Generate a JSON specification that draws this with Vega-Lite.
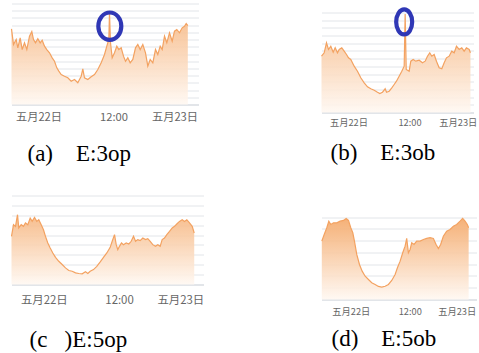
{
  "$schema": "https://vega.github.io/schema/vega-lite/v6.json",
  "background": "white",
  "padding": {"left": 8.5, "top": 0.5, "right": 0, "bottom": 0},
  "config": {"view": {"stroke": null}},
  "datasets": {
    "t": [{"h": 0}, {"h": 12}, {"h": 24}],
    "ea": [{"h": 11.41, "v": 108.5}],
    "eb": [{"h": 10.96, "v": 117.7}],
    "a": [
      {"h":-4.32,"v":104.9},{"h":-4.0,"v":83.2},{"h":-3.57,"v":90.1},{"h":-3.31,"v":78.6},{"h":-2.93,"v":92.4},{"h":-2.61,"v":76.2},{"h":-2.24,"v":85.5},{"h":-1.87,"v":76.2},{"h":-1.44,"v":94.7},{"h":-1.07,"v":101.2},{"h":-0.8,"v":90.1},{"h":-0.48,"v":85.5},{"h":-0.11,"v":91.1},{"h":0.27,"v":85.5},{"h":0.59,"v":89.1},{"h":0.96,"v":80.8},{"h":1.33,"v":76.2},{"h":1.76,"v":71.7},{"h":2.19,"v":64.7},{"h":2.56,"v":60.0},{"h":2.93,"v":50.8},{"h":3.25,"v":46.2},{"h":3.63,"v":41.6},{"h":4.16,"v":39.2},{"h":4.69,"v":37.0},{"h":5.23,"v":32.3},{"h":5.76,"v":34.7},{"h":6.29,"v":30.1},{"h":6.83,"v":39.2},{"h":7.09,"v":49.5},{"h":7.36,"v":37.0},{"h":7.89,"v":34.7},{"h":8.43,"v":38.4},{"h":8.96,"v":41.6},{"h":9.49,"v":48.5},{"h":10.03,"v":57.8},{"h":10.56,"v":69.3},{"h":10.93,"v":80.8},{"h":11.25,"v":90.1},{"h":11.36,"v":127.1},{"h":11.52,"v":85.5},{"h":11.79,"v":64.7},{"h":12.16,"v":71.7},{"h":12.53,"v":80.8},{"h":12.85,"v":76.2},{"h":13.23,"v":78.6},{"h":13.6,"v":67.0},{"h":13.92,"v":60.0},{"h":14.29,"v":64.7},{"h":14.67,"v":57.8},{"h":15.09,"v":62.4},{"h":15.52,"v":78.6},{"h":15.89,"v":83.2},{"h":16.27,"v":76.2},{"h":16.69,"v":83.2},{"h":17.12,"v":71.7},{"h":17.49,"v":53.1},{"h":17.87,"v":62.4},{"h":18.29,"v":57.8},{"h":18.72,"v":76.2},{"h":19.09,"v":69.3},{"h":19.47,"v":80.8},{"h":19.79,"v":76.2},{"h":20.16,"v":94.7},{"h":20.53,"v":85.5},{"h":20.96,"v":99.4},{"h":21.39,"v":87.8},{"h":21.76,"v":101.6},{"h":22.13,"v":104.0},{"h":22.56,"v":99.4},{"h":22.99,"v":106.3},{"h":23.36,"v":108.5},{"h":23.63,"v":112.3},{"h":23.89,"v":109.5}
    ],
    "b": [
      {"h":-5.31,"v":73.2},{"h":-4.78,"v":77.6},{"h":-4.33,"v":90.6},{"h":-3.93,"v":81.9},{"h":-3.48,"v":86.2},{"h":-3.01,"v":78.4},{"h":-2.62,"v":84.1},{"h":-2.16,"v":77.6},{"h":-1.83,"v":81.9},{"h":-1.32,"v":84.1},{"h":-0.85,"v":79.7},{"h":-0.39,"v":75.4},{"h":0,"v":71.1},{"h":0.45,"v":68.9},{"h":1.12,"v":60.2},{"h":1.77,"v":53.7},{"h":2.42,"v":45.1},{"h":3.09,"v":38.6},{"h":3.74,"v":33.4},{"h":4.39,"v":30.8},{"h":5.06,"v":29.0},{"h":5.71,"v":26.4},{"h":6.16,"v":24.7},{"h":6.69,"v":26.4},{"h":7.22,"v":30.8},{"h":7.48,"v":26.4},{"h":8.01,"v":27.7},{"h":8.52,"v":32.1},{"h":8.99,"v":36.4},{"h":9.44,"v":40.7},{"h":9.97,"v":47.2},{"h":10.49,"v":53.7},{"h":10.96,"v":60.2},{"h":11.15,"v":128.0},{"h":11.36,"v":56.0},{"h":11.94,"v":53.7},{"h":12.26,"v":66.7},{"h":12.73,"v":68.9},{"h":13.24,"v":66.7},{"h":13.91,"v":68.0},{"h":14.56,"v":64.6},{"h":15.09,"v":66.7},{"h":15.54,"v":73.2},{"h":15.99,"v":77.6},{"h":16.39,"v":73.2},{"h":16.86,"v":75.4},{"h":17.31,"v":66.7},{"h":17.84,"v":58.1},{"h":18.36,"v":56.8},{"h":18.83,"v":64.6},{"h":19.28,"v":71.1},{"h":19.81,"v":73.2},{"h":20.32,"v":79.7},{"h":20.8,"v":77.6},{"h":21.25,"v":86.2},{"h":21.78,"v":81.9},{"h":22.29,"v":84.1},{"h":22.76,"v":79.7},{"h":23.21,"v":84.1},{"h":23.75,"v":81.9},{"h":24.0,"v":77.6}
    ],
    "c": [
      {"h":-5.15,"v":48.7},{"h":-4.83,"v":60.5},{"h":-4.51,"v":58.8},{"h":-4.19,"v":70.6},{"h":-3.99,"v":57.2},{"h":-3.6,"v":60.5},{"h":-3.24,"v":58.8},{"h":-2.92,"v":62.2},{"h":-2.55,"v":60.5},{"h":-2.17,"v":67.2},{"h":-1.85,"v":63.8},{"h":-1.48,"v":67.8},{"h":-1.12,"v":63.8},{"h":-0.8,"v":65.5},{"h":-0.41,"v":60.5},{"h":-0.05,"v":55.4},{"h":0.27,"v":48.7},{"h":0.64,"v":42.0},{"h":1.02,"v":37.0},{"h":1.44,"v":31.9},{"h":1.87,"v":27.5},{"h":2.39,"v":23.5},{"h":2.93,"v":20.2},{"h":3.46,"v":16.8},{"h":3.99,"v":14.1},{"h":4.53,"v":13.4},{"h":5.06,"v":11.8},{"h":5.58,"v":11.1},{"h":6.12,"v":10.8},{"h":6.65,"v":12.8},{"h":7.02,"v":11.1},{"h":7.4,"v":13.4},{"h":7.93,"v":15.1},{"h":8.45,"v":18.4},{"h":9.0,"v":22.8},{"h":9.52,"v":27.5},{"h":10.05,"v":31.9},{"h":10.59,"v":37.6},{"h":10.91,"v":43.7},{"h":11.28,"v":50.4},{"h":11.55,"v":40.3},{"h":11.8,"v":35.3},{"h":12.07,"v":38.6},{"h":12.39,"v":42.0},{"h":12.71,"v":40.3},{"h":13.14,"v":42.0},{"h":13.56,"v":41.0},{"h":13.94,"v":43.7},{"h":14.31,"v":48.7},{"h":14.63,"v":43.7},{"h":14.99,"v":45.4},{"h":15.37,"v":44.4},{"h":15.79,"v":47.0},{"h":16.22,"v":45.4},{"h":16.59,"v":46.4},{"h":16.97,"v":43.7},{"h":17.38,"v":40.3},{"h":17.81,"v":38.6},{"h":18.18,"v":40.3},{"h":18.56,"v":38.6},{"h":18.88,"v":45.4},{"h":19.25,"v":47.0},{"h":19.62,"v":50.4},{"h":20.05,"v":53.7},{"h":20.48,"v":57.2},{"h":20.85,"v":58.8},{"h":21.21,"v":61.2},{"h":21.64,"v":63.8},{"h":22.07,"v":65.5},{"h":22.44,"v":63.8},{"h":22.81,"v":65.5},{"h":23.24,"v":62.2},{"h":23.67,"v":58.8},{"h":23.99,"v":52.1}
    ],
    "d": [
      {"h":-5.9,"v":49.6},{"h":-5.41,"v":55.3},{"h":-4.88,"v":61.0},{"h":-4.47,"v":66.6},{"h":-4.07,"v":63.8},{"h":-3.52,"v":65.2},{"h":-2.85,"v":65.2},{"h":-2.16,"v":66.6},{"h":-1.48,"v":67.2},{"h":-0.94,"v":68.9},{"h":-0.47,"v":67.2},{"h":0,"v":61.0},{"h":0.41,"v":56.7},{"h":0.75,"v":49.6},{"h":1.22,"v":38.3},{"h":1.77,"v":29.8},{"h":2.32,"v":24.1},{"h":2.93,"v":19.8},{"h":3.6,"v":17.0},{"h":4.27,"v":14.2},{"h":4.96,"v":12.8},{"h":5.63,"v":11.1},{"h":6.3,"v":10.5},{"h":7.0,"v":11.3},{"h":7.67,"v":12.8},{"h":8.34,"v":16.2},{"h":9.03,"v":21.3},{"h":9.5,"v":27.0},{"h":10.05,"v":32.6},{"h":10.58,"v":39.7},{"h":11.06,"v":45.3},{"h":11.39,"v":51.9},{"h":11.73,"v":39.7},{"h":12.08,"v":42.5},{"h":12.41,"v":48.2},{"h":12.89,"v":46.8},{"h":13.42,"v":49.6},{"h":14.11,"v":49.6},{"h":14.79,"v":51.0},{"h":15.46,"v":51.9},{"h":16.15,"v":52.5},{"h":16.82,"v":51.9},{"h":17.37,"v":46.8},{"h":17.84,"v":43.4},{"h":18.3,"v":46.8},{"h":18.85,"v":53.8},{"h":19.52,"v":58.1},{"h":20.22,"v":59.5},{"h":20.89,"v":62.3},{"h":21.56,"v":63.8},{"h":22.25,"v":66.6},{"h":22.78,"v":68.9},{"h":23.27,"v":66.6},{"h":23.73,"v":63.8},{"h":24.0,"v":61.0}
    ]
  },
  "spacing": 29,
  "vconcat": [
    {
      "spacing": 120,
      "hconcat": [
        {
          "width": 187, "height": 101,
          "title": {"text": "(a)\u00a0\u00a0\u00a0\u00a0E:3op", "orient": "bottom", "anchor": "start", "frame": "group", "dx": 16, "offset": 38.4, "baseline": "alphabetic", "font": "Liberation Serif", "fontSize": 23, "fontWeight": "normal", "color": "#000000"},
          "encoding": {
            "x": {"field": "h", "type": "quantitative", "scale": {"domain": [-4.32, 25.6], "nice": false, "zero": false},
              "axis": {"values": [0, 12, 24], "labelExpr": "datum.value == 0 ? '五月22日' : datum.value == 12 ? '12:00' : '五月23日'", "grid": false, "ticks": false, "tickSize": 0, "domain": true, "domainColor": "#d3d8de", "labelFont": "Noto Sans CJK SC", "labelFontSize": 11.2, "labelColor": "#666666", "labelPadding": 13, "labelBaseline": "middle", "labelAlign": "center", "labelFlush": false, "labelOverlap": false, "labelBound": false, "labelOffset": {"condition": {"test": "datum.value == 24", "value": -14}, "value": 0}, "title": null}},
            "y": {"field": "v", "type": "quantitative", "scale": {"domain": [0, 140], "nice": false, "zero": true},
              "axis": {"values": [0, 10, 20, 30, 40, 50, 60, 70, 80, 90, 100, 110, 120, 130, 140], "labels": false, "ticks": false, "domain": false, "grid": true, "gridColor": "#e2e5e9", "title": null}}
          },
          "layer": [
            {"data": {"name": "t"}, "mark": {"type": "rule", "color": "#dcdfe4", "strokeWidth": 1},
              "encoding": {"y": {"datum": 0, "type": "quantitative", "scale": {"domain": [0, 140], "nice": false, "zero": true}, "axis": {"values": [0, 10, 20, 30, 40, 50, 60, 70, 80, 90, 100, 110, 120, 130, 140], "labels": false, "ticks": false, "domain": false, "grid": true, "gridColor": "#e2e5e9", "title": null}}, "y2": {"datum": 140}}},
            {"data": {"name": "a"}, "mark": {"type": "area", "opacity": 0.9, "color": {"gradient": "linear", "x1": 1, "y1": 1, "x2": 1, "y2": 0, "stops": [{"offset": 0, "color": "#fff8f2"}, {"offset": 1, "color": "#f6b680"}]}}, "encoding": {}},
            {"data": {"name": "a"}, "mark": {"type": "line", "color": "#f3a261", "strokeWidth": 1.2}, "encoding": {}},
            {"data": {"name": "ea"}, "mark": {"type": "point", "shape": "M0,-1C0.462,-1 0.836,-0.552 0.836,0C0.836,0.552 0.462,1 0,1C-0.462,1 -0.836,0.552 -0.836,0C-0.836,-0.552 -0.462,-1 0,-1Z", "size": 756, "filled": false, "color": "#2f37b5", "strokeWidth": 4.2, "opacity": 1}, "encoding": {}}
          ]
        },
        {
          "width": 152, "height": 109,
          "title": {"text": "(b)\u00a0\u00a0\u00a0\u00a0E:3ob", "orient": "bottom", "anchor": "start", "frame": "group", "dx": 9, "offset": 32, "baseline": "alphabetic", "font": "Liberation Serif", "fontSize": 23, "fontWeight": "normal", "color": "#000000"},
          "encoding": {
            "x": {"field": "h", "type": "quantitative", "scale": {"domain": [-5.31, 24.6], "nice": false, "zero": false},
              "axis": {"values": [0, 12, 24], "labelExpr": "datum.value == 0 ? '五月22日' : datum.value == 12 ? '12:00' : '五月23日'", "grid": false, "ticks": false, "tickSize": 0, "domain": true, "domainColor": "#d3d8de", "labelFont": "Noto Sans CJK SC", "labelFontSize": 9.25, "labelColor": "#666666", "labelPadding": 10, "labelBaseline": "middle", "labelAlign": "center", "labelFlush": false, "labelOverlap": false, "labelBound": false, "labelOffset": {"condition": {"test": "datum.value == 24", "value": -12.6}, "value": 0}, "title": null}},
            "y": {"field": "v", "type": "quantitative", "scale": {"domain": [0, 141.7], "nice": false, "zero": true},
              "axis": {"values": [0, 10, 20, 30, 40, 50, 60, 70, 80, 90, 100, 110, 120, 130], "labels": false, "ticks": false, "domain": false, "grid": true, "gridColor": "#e2e5e9", "title": null}}
          },
          "layer": [
            {"data": {"name": "t"}, "mark": {"type": "rule", "color": "#dcdfe4", "strokeWidth": 1},
              "encoding": {"y": {"datum": 0, "type": "quantitative", "scale": {"domain": [0, 141.7], "nice": false, "zero": true}, "axis": {"values": [0, 10, 20, 30, 40, 50, 60, 70, 80, 90, 100, 110, 120, 130], "labels": false, "ticks": false, "domain": false, "grid": true, "gridColor": "#e2e5e9", "title": null}}, "y2": {"datum": 131.3}}},
            {"data": {"name": "b"}, "mark": {"type": "area", "opacity": 0.9, "color": {"gradient": "linear", "x1": 1, "y1": 1, "x2": 1, "y2": 0, "stops": [{"offset": 0, "color": "#fff8f2"}, {"offset": 1, "color": "#f6b680"}]}}, "encoding": {}},
            {"data": {"name": "b"}, "mark": {"type": "line", "color": "#f3a261", "strokeWidth": 1.2}, "encoding": {}},
            {"data": {"name": "eb"}, "mark": {"type": "point", "shape": "M0,-1C0.353,-1 0.64,-0.552 0.64,0C0.64,0.552 0.353,1 0,1C-0.353,1 -0.64,0.552 -0.64,0C-0.64,-0.552 -0.353,-1 0,-1Z", "size": 625, "filled": false, "color": "#2f37b5", "strokeWidth": 4.2, "opacity": 1}, "encoding": {}}
          ]
        }
      ]
    },
    {
      "spacing": 114,
      "hconcat": [
        {
          "width": 192, "height": 89,
          "title": {"text": "(c\u00a0\u00a0\u00a0)E:5op", "orient": "bottom", "anchor": "start", "frame": "group", "dx": 18, "offset": 40.7, "baseline": "alphabetic", "font": "Liberation Serif", "fontSize": 23, "fontWeight": "normal", "color": "#000000"},
          "encoding": {
            "x": {"field": "h", "type": "quantitative", "scale": {"domain": [-5.15, 25.47], "nice": false, "zero": false},
              "axis": {"values": [0, 12, 24], "labelExpr": "datum.value == 0 ? '五月22日' : datum.value == 12 ? '12:00' : '五月23日'", "grid": false, "ticks": false, "tickSize": 0, "domain": true, "domainColor": "#d3d8de", "labelFont": "Noto Sans CJK SC", "labelFontSize": 11.4, "labelColor": "#666666", "labelPadding": 16, "labelBaseline": "middle", "labelAlign": "center", "labelFlush": false, "labelOverlap": false, "labelBound": false, "labelOffset": {"condition": {"test": "datum.value == 24", "value": -14}, "value": 0}, "title": null}},
            "y": {"field": "v", "type": "quantitative", "scale": {"domain": [0, 90], "nice": false, "zero": true},
              "axis": {"values": [0, 10, 20, 30, 40, 50, 60, 70, 80, 90], "labels": false, "ticks": false, "domain": false, "grid": true, "gridColor": "#e2e5e9", "title": null}}
          },
          "layer": [
            {"data": {"name": "t"}, "mark": {"type": "rule", "color": "#dcdfe4", "strokeWidth": 1},
              "encoding": {"y": {"datum": 0, "type": "quantitative", "scale": {"domain": [0, 90], "nice": false, "zero": true}, "axis": {"values": [0, 10, 20, 30, 40, 50, 60, 70, 80, 90], "labels": false, "ticks": false, "domain": false, "grid": true, "gridColor": "#e2e5e9", "title": null}}, "y2": {"datum": 90}}},
            {"data": {"name": "c"}, "mark": {"type": "area", "opacity": 0.9, "color": {"gradient": "linear", "x1": 1, "y1": 1, "x2": 1, "y2": 0, "stops": [{"offset": 0, "color": "#fff8f2"}, {"offset": 1, "color": "#f6b680"}]}}, "encoding": {}},
            {"data": {"name": "c"}, "mark": {"type": "line", "color": "#f3a261", "strokeWidth": 1.2}, "encoding": {}}
          ]
        },
        {
          "width": 155, "height": 104,
          "title": {"text": "(d)\u00a0\u00a0\u00a0\u00a0E:5ob", "orient": "bottom", "anchor": "start", "frame": "group", "dx": 10, "offset": 29.8, "baseline": "alphabetic", "font": "Liberation Serif", "fontSize": 23, "fontWeight": "normal", "color": "#000000"},
          "encoding": {
            "x": {"field": "h", "type": "quantitative", "scale": {"domain": [-5.96, 25.6], "nice": false, "zero": false},
              "axis": {"values": [0, 12, 24], "labelExpr": "datum.value == 0 ? '五月22日' : datum.value == 12 ? '12:00' : '五月23日'", "grid": false, "ticks": false, "tickSize": 0, "domain": true, "domainColor": "#d3d8de", "labelFont": "Noto Sans CJK SC", "labelFontSize": 9.25, "labelColor": "#666666", "labelPadding": 11.7, "labelBaseline": "middle", "labelAlign": "center", "labelFlush": false, "labelOverlap": false, "labelBound": false, "labelOffset": {"condition": {"test": "datum.value == 24", "value": -12}, "value": 0}, "title": null}},
            "y": {"field": "v", "type": "quantitative", "scale": {"domain": [0, 88.4], "nice": false, "zero": true},
              "axis": {"values": [0, 10, 20, 30, 40, 50, 60, 70], "labels": false, "ticks": false, "domain": false, "grid": true, "gridColor": "#e2e5e9", "title": null}}
          },
          "layer": [
            {"data": {"name": "t"}, "mark": {"type": "rule", "color": "#dcdfe4", "strokeWidth": 1},
              "encoding": {"y": {"datum": 0, "type": "quantitative", "scale": {"domain": [0, 88.4], "nice": false, "zero": true}, "axis": {"values": [0, 10, 20, 30, 40, 50, 60, 70], "labels": false, "ticks": false, "domain": false, "grid": true, "gridColor": "#e2e5e9", "title": null}}, "y2": {"datum": 79.3}}},
            {"data": {"name": "d"}, "mark": {"type": "area", "opacity": 0.9, "color": {"gradient": "linear", "x1": 1, "y1": 1, "x2": 1, "y2": 0, "stops": [{"offset": 0, "color": "#fff8f2"}, {"offset": 1, "color": "#f4a868"}]}}, "encoding": {}},
            {"data": {"name": "d"}, "mark": {"type": "line", "color": "#f3a261", "strokeWidth": 1.2}, "encoding": {}}
          ]
        }
      ]
    }
  ]
}
